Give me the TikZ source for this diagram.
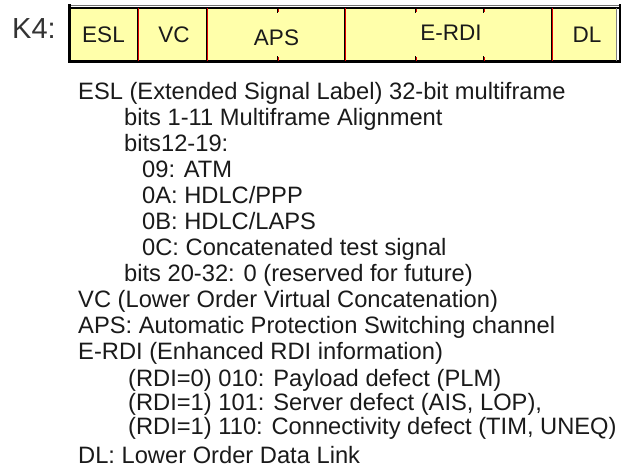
\documentclass[tikz,border=0pt]{standalone}
\usepackage{fontspec}
\setmainfont{Liberation Sans}
\definecolor{boxfill}{HTML}{FFFFAA}
\definecolor{divred}{HTML}{E00000}
\definecolor{textc}{HTML}{1A1A1A}
\definecolor{kcol}{HTML}{333333}
\begin{document}
\begin{tikzpicture}[x=1pt,y=-1pt,
  txt/.style={anchor=base west, inner sep=0pt, font=\fontsize{23.7}{26}\selectfont, text=textc},
  lbl/.style={anchor=base, inner sep=0pt, font=\fontsize{22.5}{24}\selectfont, text=textc},
  divider/.style={divred, line width=1.4pt},
  divdark/.style={black, line width=0.6pt},
  tick/.style={black, line width=1pt}]
\useasboundingbox (0,0) rectangle (621,471);
% K4 label
\node[anchor=base west, inner sep=0pt, font=\fontsize{29}{30}\selectfont, text=kcol] (k4) at (12,38) {K4:};
% box
\fill[boxfill] (68,8) rectangle (617,61);
\draw[black!55, line width=0.8pt] (68,5.5) -- (620,5.5);
\draw[black, line width=1.6pt] (68,8) -- (620,8);
\draw[black, line width=3pt] (68,61.5) -- (620,61.5);
\draw[black, line width=3pt] (69.5,4) -- (69.5,63);
\draw[black!50, line width=1pt] (616.5,8) -- (616.5,61);
\draw[black, line width=2pt] (620,4) -- (620,63);
% dividers
\foreach \x in {138,207,345,552}{
  \draw[divdark] (\x-0.9,8) -- (\x-0.9,61);
  \draw[divider] (\x+0.3,8) -- (\x+0.3,61);
}
% ticks
\foreach \x in {277,415,483}{
  \draw[tick] (\x,8) -- (\x,13);
  \draw[tick] (\x,56) -- (\x,61);
  \draw[divred, line width=0.6pt] (\x+0.8,8.5) -- (\x+0.8,12);
  \draw[divred, line width=0.6pt] (\x+0.8,57) -- (\x+0.8,60.5);
}
% field labels
\node[lbl] (esl) at (103.5,42) {ESL};
\node[lbl] (vc) at (174,42) {VC};
\node[lbl] (aps) at (276.5,45) {APS};
\node[lbl] (erdi) at (451,40) {E-RDI};
\node[lbl] (dl) at (587,42) {DL};
% description text
\node[txt] (l1) at (78,99) {ESL (Extended Signal Label) 32-bit multiframe};
\node[txt] (l2) at (124,125) {bits 1-11 Multiframe Alignment};
\node[txt] (l3) at (124,151) {bits12-19:};
\node[txt] (l4) at (142,177) {09: ATM};
\node[txt] (l5) at (142,203) {0A: HDLC/PPP};
\node[txt] (l6) at (142,229) {0B: HDLC/LAPS};
\node[txt] (l7) at (142,255) {0C: Concatenated test signal};
\node[txt] (l8) at (124,281) {bits 20-32: 0 (reserved for future)};
\node[txt] (l9) at (78,307) {VC (Lower Order Virtual Concatenation)};
\node[txt] (l10) at (78,333) {APS: Automatic Protection Switching channel};
\node[txt] (l11) at (78,359) {E-RDI (Enhanced RDI information)};
\node[txt] (l12) at (128,386) {(RDI=0) 010: Payload defect (PLM)};
\node[txt] (l13) at (128,410) {(RDI=1) 101: Server defect (AIS, LOP),};
\node[txt] (l14) at (128,434) {(RDI=1) 110: Connectivity defect (TIM, UNEQ)};
\node[txt] (l15) at (78,463) {DL: Lower Order Data Link};
\end{tikzpicture}
\end{document}
